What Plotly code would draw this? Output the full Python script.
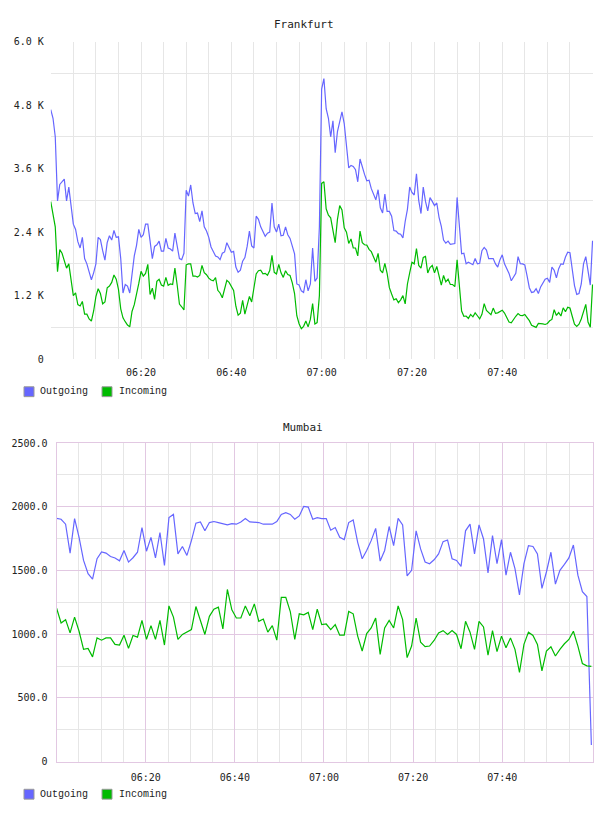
import pandas as pd
import plotly.graph_objects as go

# ---------------- data ----------------
fra_out = [
 4713,4550,4200,2990,3300,3350,3400,2990,3250,2900,
 2550,2450,2220,2100,2300,1900,1800,1650,1500,1630,
 1800,2300,2260,2050,1870,2200,2330,2250,2430,2300,
 2310,1900,1250,1410,1380,1250,1650,1950,2150,2450,
 2300,2350,2550,2550,2230,1900,2130,2160,2230,2040,
 2040,2280,2100,2080,2040,2380,2140,1900,1880,2000,
 3190,3080,3290,2950,2750,2760,2600,2800,2500,2420,
 2300,2120,2035,1950,1930,1880,2000,2025,2200,2100,
 2020,2035,1740,1640,1680,1850,1920,2130,2420,2140,
 2100,2700,2640,2500,2410,2320,2380,2400,2950,2500,
 2400,2550,2330,2340,2500,2350,2280,2150,1990,1420,
 1400,1290,1260,1500,1290,1420,2100,1470,1534,2500,
 5100,5300,4730,4550,4200,4500,3900,4300,4500,4670,
 4450,4000,3614,3660,3640,3580,3350,3780,3620,3490,
 3370,3380,3220,3130,3010,3200,2860,2760,3120,2790,
 2790,2700,2430,2420,2370,2360,2290,2600,2830,3250,
 3150,3100,3500,3000,2750,3250,2980,2800,3050,2980,
 2900,2950,2680,2510,2250,2190,2230,2170,2185,2185,
 3055,2450,1990,2000,1800,1830,1813,1785,1900,1800,
 1810,2050,2110,2062,1900,1900,1900,1800,1740,1880,
 1970,1800,1715,1620,1480,1550,1620,1938,1805,1800,
 1780,1575,1350,1260,1270,1330,1240,1365,1430,1510,
 1530,1450,1740,1680,1534,1710,1800,1790,1930,2020,
 2010,1720,1390,1224,1240,1420,1800,1938,1680,1400,
 2235]

fra_in = [
 2975,2700,2500,1650,2070,2000,1860,1720,1800,1450,
 1200,1250,1030,1006,1090,850,850,760,720,910,
 1180,1330,1240,1045,1080,1348,1380,1450,1590,1510,
 1317,950,780,708,645,610,900,1030,1270,1430,
 1658,1570,1620,1790,1220,1340,1130,1470,1510,1400,
 1380,1545,1395,1420,1410,1720,1400,1040,990,930,
 1782,1800,1800,1570,1570,1550,1580,1770,1635,1595,
 1530,1495,1480,1540,1300,1250,1160,1340,1490,1450,
 1380,1300,1000,830,870,1110,850,1000,1185,1080,
 1320,1610,1670,1680,1610,1620,1585,1675,1960,1640,
 1610,1790,1630,1545,1670,1600,1580,1440,1240,820,
 670,575,620,720,610,750,1050,665,690,1200,
 3320,3350,2840,2720,2670,2420,2200,2640,2900,2820,
 2480,2400,2185,2270,2100,2100,1950,2420,2200,2160,
 2155,2075,2030,1930,1830,2000,1680,1630,1810,1620,
 1350,1230,1120,1140,1068,1120,1200,1045,1420,1630,
 1830,1800,2090,1770,1720,1920,1940,1627,1730,1770,
 1630,1750,1590,1400,1580,1460,1510,1410,1410,1370,
 1876,1450,910,810,815,770,845,800,875,820,
 760,848,1050,920,870,840,965,865,875,905,
 925,870,770,700,685,758,810,860,825,822,
 845,785,727,640,625,600,675,675,665,655,
 675,725,750,935,825,880,815,970,895,980,
 965,810,660,618,660,760,925,1035,700,605,
 1410]

mum_out = [
 1909,1902,1863,1636,1907,1760,1579,1475,1432,1592,
 1646,1636,1610,1598,1576,1657,1566,1600,1643,1837,
 1651,1760,1599,1798,1540,1915,1940,1630,1688,1618,
 1734,1871,1881,1811,1876,1884,1876,1868,1858,1868,
 1863,1881,1907,1881,1881,1876,1863,1863,1863,1884,
 1940,1953,1940,1902,1928,2003,1997,1902,1915,1907,
 1907,1816,1837,1760,1742,1876,1897,1721,1592,1657,
 1734,1830,1574,1657,1845,1695,1909,1858,1457,1501,
 1811,1669,1566,1553,1584,1630,1726,1739,1592,1579,
 1532,1811,1863,1630,1858,1747,1481,1773,1553,1742,
 1463,1643,1514,1308,1553,1695,1688,1630,1359,1488,
 1643,1393,1501,1548,1599,1700,1463,1333,1295,130]

mum_in = [
 1204,1088,1114,1010,1134,1023,881,889,822,971,
 953,971,971,920,915,992,889,990,977,1108,
 959,1067,959,1108,915,1222,1134,959,998,1018,
 1036,1217,1101,998,1140,1196,1212,1041,1351,1191,
 1127,1127,1222,1145,1238,1101,1119,1016,1067,953,
 1289,1289,1178,959,1160,1152,1171,1036,1196,1075,
 1080,1036,1075,992,992,1178,1160,985,868,1005,
 1049,1127,842,1049,1108,1049,1222,1114,816,907,
 1127,938,902,907,951,1010,1028,998,1028,998,
 886,1101,1016,881,1101,1057,835,1028,863,985,
 894,971,881,700,920,1016,990,920,713,868,
 902,829,881,925,959,1023,907,770,752,747]

series_names = ["Outgoing", "Incoming"]
fra_yticks = [0, 1200, 2400, 3600, 4800, 6000]
fra_ytext = ["0", "1.2 K", "2.4 K", "3.6 K", "4.8 K", "6.0 K"]
mum_yticks = [0, 500, 1000, 1500, 2000, 2500]
mum_ytext = ["0", "500.0", "1000.0", "1500.0", "2000.0", "2500.0"]
x_labels = ["06:20", "06:40", "07:00", "07:20", "07:40"]

DAY = "2024-01-01 "
fra_t = pd.date_range(DAY + "06:00", periods=len(fra_out), freq="30s")
mum_t = pd.date_range(DAY + "06:00", DAY + "08:00", periods=len(mum_out))
x_tickvals = [DAY + s for s in x_labels]
minor_vals = [DAY + f"{6 + (m // 60):02d}:{m % 60:02d}" for m in range(5, 120, 5)]

# ---------------- style ----------------
BLUE = "#6666ff"
GREEN = "#00bb00"
GRID = "#e6e6e6"
PINK = "#e2c8e2"
TXT = "#222222"
FONT = "DejaVu Sans Mono"
W, H = 608, 816

fig = go.Figure()
fig.add_trace(go.Scatter(x=fra_t, y=fra_out, mode="lines", name=series_names[0],
                         line=dict(color=BLUE, width=1.2), xaxis="x", yaxis="y"))
fig.add_trace(go.Scatter(x=fra_t, y=fra_in, mode="lines", name=series_names[1],
                         line=dict(color=GREEN, width=1.2), xaxis="x", yaxis="y"))
fig.add_trace(go.Scatter(x=mum_t, y=mum_out, mode="lines", name=series_names[0],
                         line=dict(color=BLUE, width=1.2), xaxis="x2", yaxis="y2"))
fig.add_trace(go.Scatter(x=mum_t, y=mum_in, mode="lines", name=series_names[1],
                         line=dict(color=GREEN, width=1.2), xaxis="x2", yaxis="y2"))

tickfont = dict(family=FONT, size=10, color=TXT)

def px_x(p):
    return p / W

def px_y(p):
    return 1 - p / H

fig.update_layout(
    width=W, height=H, margin=dict(l=0, r=0, t=0, b=0),
    paper_bgcolor="white", plot_bgcolor="white", showlegend=False,
    xaxis=dict(domain=[px_x(50.75), px_x(593.3)], anchor="y", type="date",
               range=[DAY + "06:00:00", DAY + "08:00:10"],
               tickmode="array", tickvals=x_tickvals, ticktext=x_labels,
               showgrid=True, gridcolor=GRID, gridwidth=1, zeroline=False,
               showline=False, ticks="", tickfont=tickfont, ticklabelstandoff=6,
               minor=dict(tickmode="array", tickvals=minor_vals, showgrid=True,
                          gridcolor=GRID, gridwidth=1, ticks="")),
    yaxis=dict(domain=[px_y(359), px_y(37)], anchor="x", range=[0, 6000],
               tickmode="array", tickvals=fra_yticks, ticktext=fra_ytext,
               showgrid=False, zeroline=False, showline=False, ticks="",
               tickfont=tickfont, ticklabelstandoff=6,
               minor=dict(tickmode="array", tickvals=[600, 1800, 3000, 4200, 5400],
                          showgrid=True, gridcolor=GRID, gridwidth=1, ticks="")),
    xaxis2=dict(domain=[px_x(56.6), px_x(593.3)], anchor="y2", type="date",
                range=[DAY + "06:00:00", DAY + "08:00:26"],
                tickmode="array", tickvals=x_tickvals, ticktext=x_labels,
                showgrid=True, gridcolor=PINK, gridwidth=1, zeroline=False,
                showline=True, linecolor=PINK, linewidth=1, mirror=True,
                ticks="", tickfont=tickfont, ticklabelstandoff=6,
                minor=dict(tickmode="array", tickvals=minor_vals, showgrid=True,
                           gridcolor=GRID, gridwidth=1, ticks="")),
    yaxis2=dict(domain=[px_y(767), px_y(444)], anchor="x2", range=[0, 2500],
                tickmode="array", tickvals=mum_yticks, ticktext=mum_ytext,
                showgrid=True, gridcolor=PINK, gridwidth=1, zeroline=False,
                showline=True, linecolor=PINK, linewidth=1, mirror=True,
                ticks="", tickfont=tickfont, ticklabelstandoff=6,
                minor=dict(tickmode="array", tickvals=[250, 750, 1250, 1750, 2250],
                           showgrid=True, gridcolor=GRID, gridwidth=1, ticks="")),
)

titles = [("Frankfurt", 304, 20), ("Mumbai", 303, 428)]
annotations = []
for text, cx, cy in titles:
    annotations.append(dict(text=text, x=px_x(cx), y=px_y(cy), xref="paper", yref="paper",
                            showarrow=False, xanchor="center", yanchor="middle",
                            font=dict(family=FONT, size=11, color=TXT)))

shapes = []
for cy in (392, 800):
    for name, color, sx, tx in ((series_names[0], BLUE, 24, 38), (series_names[1], GREEN, 102, 117)):
        shapes.append(dict(type="rect", xref="paper", yref="paper",
                           x0=px_x(sx), x1=px_x(sx + 10), y0=px_y(cy + 5), y1=px_y(cy - 5),
                           fillcolor=color, line=dict(color="#999999", width=1)))
        annotations.append(dict(text=name, x=px_x(tx), y=px_y(cy), xref="paper", yref="paper",
                                showarrow=False, xanchor="left", yanchor="middle",
                                font=dict(family="Liberation Mono", size=10, color=TXT)))

fig.update_layout(annotations=annotations, shapes=shapes)
fig.write_html("out.html")
